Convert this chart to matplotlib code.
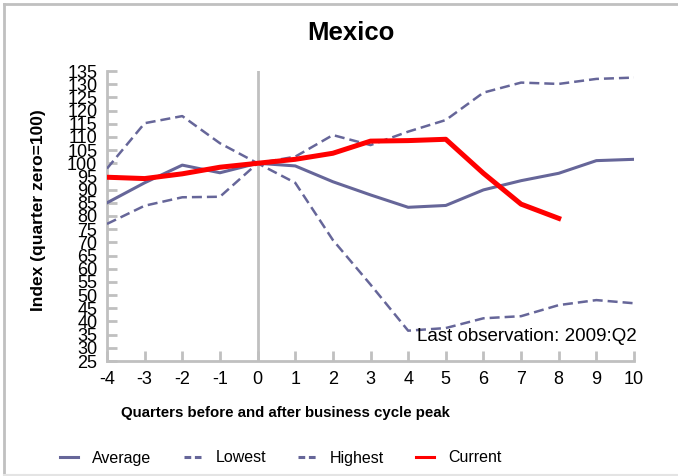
import matplotlib
matplotlib.use('Agg')
import matplotlib.pyplot as plt
from matplotlib.lines import Line2D

plt.rcParams['font.family'] = ['Liberation Sans', 'DejaVu Sans']
plt.rcParams['axes.unicode_minus'] = False

# Data
quarters = [-4, -3, -2, -1, 0, 1, 2, 3, 4, 5, 6, 7, 8, 9, 10]
average = [85, 92.6, 99.3, 96.4, 100, 99, 93, 88, 83.3, 84, 89.9, 93.4, 96.2, 101, 101.5]
lowest = [77, 83.9, 87.1, 87.3, 100, 92.6, 70.9, 54, 36.5, 37.5, 41.2, 42, 46.2, 48.1, 46.9]
highest = [98, 115.2, 117.9, 107.6, 100, 102.5, 110.7, 106.9, 112, 116.4, 126.8, 130.6, 130.1, 132, 132.5]
current_q = [-4, -3, -2, -1, 0, 1, 2, 3, 4, 5, 6, 7, 8]
current = [94.7, 94.2, 96, 98.5, 100, 101.5, 103.8, 108.4, 108.6, 109.1, 96.2, 84.5, 79.1]
yticks = list(range(25, 136, 5))

W, H = 678, 476
fig = plt.figure(figsize=(W / 100, H / 100), dpi=100)
ax = fig.add_axes([107 / W, 1 - 361 / H, 527 / W, 290 / H])

slate = '#666699'
grey = '#c0c0c0'

ax.axvline(0, color=grey, lw=2, zorder=1)
ax.plot(quarters, average, color=slate, lw=2.2, label='Average', zorder=3)
ax.plot(quarters, lowest, color=slate, lw=1.8, dashes=(4, 2), label='Lowest', zorder=3)
ax.plot(quarters, highest, color=slate, lw=1.8, dashes=(4, 2), label='Highest', zorder=3)
ax.plot(current_q, current, color='#ff0000', lw=3.6, label='Current', zorder=4)

ax.set_xlim(-4, 10)
ax.set_ylim(25, 135)
ax.set_xticks(quarters)
ax.set_yticks(yticks)
for s in ['top', 'right']:
    ax.spines[s].set_visible(False)
for s in ['left', 'bottom']:
    ax.spines[s].set_color(grey)
    ax.spines[s].set_linewidth(2)
ax.tick_params(direction='in', length=7, width=2, color=grey, labelsize=13, pad=7)

ax.text(1.006, 0.086, 'Last observation: 2009:Q2', transform=ax.transAxes,
        ha='right', va='center', fontsize=13.5)

fig.text(351 / W, 1 - 33 / H, 'Mexico', ha='center', va='center', fontsize=18.5, fontweight='bold')
fig.text(39 / W, 1 - 210 / H, 'Index (quarter zero=100)', rotation=90, ha='center', va='center',
         fontsize=12.5, fontweight='bold')
fig.text(285 / W, 1 - 413 / H, 'Quarters before and after business cycle peak', ha='center',
         va='center', fontsize=10.8, fontweight='bold')

leg = fig.legend(loc='center', bbox_to_anchor=(281 / W, 1 - 458 / H), ncol=4, frameon=False,
                 fontsize=11.5, handlelength=1.1, handletextpad=0.9, columnspacing=2.0)
for h in leg.get_lines():
    h.set_linewidth(2.2)
    if h.get_label() in ('Lowest', 'Highest'):
        h.set_dashes((2.2, 1.2))

# chart border
fig.add_artist(Line2D([4 / W, 4 / W], [0, 1 - 4 / H], transform=fig.transFigure, color=grey, lw=2))
fig.add_artist(Line2D([4 / W, 1], [1 - 4 / H, 1 - 4 / H], transform=fig.transFigure, color=grey, lw=2))
fig.add_artist(Line2D([4 / W, 1], [1 - 475 / H, 1 - 475 / H], transform=fig.transFigure, color='#e4e4e4', lw=1.5))

fig.savefig('out.png', dpi=100)
